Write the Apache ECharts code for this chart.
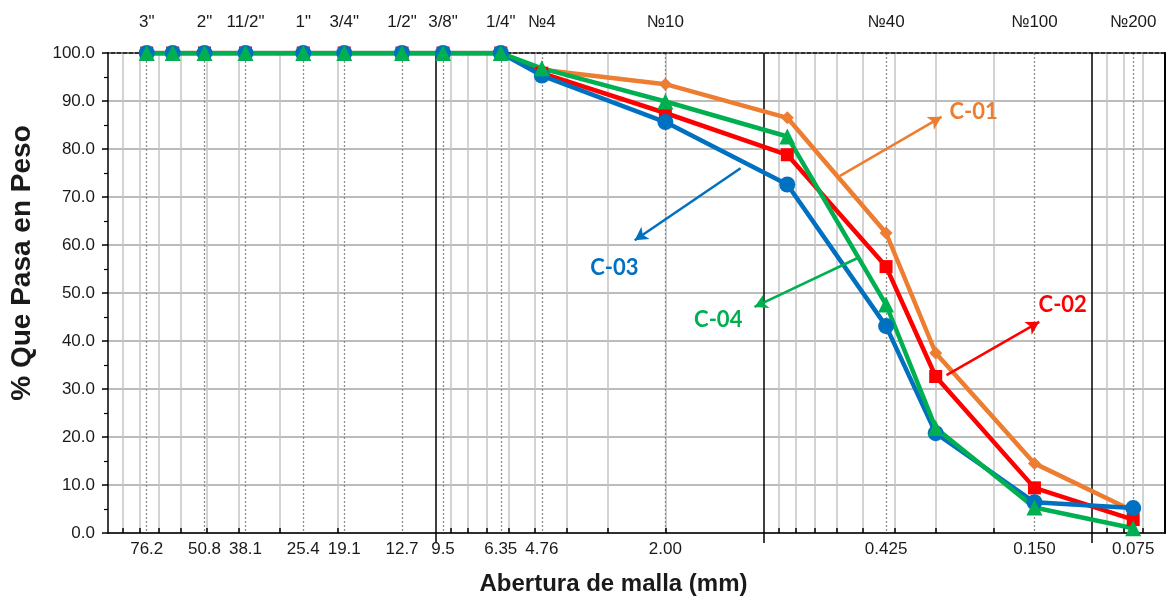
<!DOCTYPE html>
<html><head><meta charset="utf-8">
<script src="https://cdn.jsdelivr.net/npm/echarts@6/dist/echarts.min.js"></script>
<style>html,body{margin:0;padding:0;background:#fff}#c{width:1169px;height:606px}</style>
</head><body><div id="c"></div>
<script>
// Sieve openings (mm)
const sizes = [76.2, 63.5, 50.8, 38.1, 25.4, 19.05, 12.7, 9.525, 6.35, 4.76, 2.00, 0.85, 0.425, 0.30, 0.15, 0.075];
// % passing
const c01 = [100,100,100,100,100,100,100,100,100, 96.5, 93.5, 86.5, 62.5, 37.5, 14.5, 4.6];
const c02 = [100,100,100,100,100,100,100,100,100, 95.8, 87.5, 78.8, 55.5, 32.6, 9.4, 2.8];
const c03 = [100,100,100,100,100,100,100,100,100, 95.3, 85.6, 72.6, 43.1, 20.8, 6.4, 5.2];
const c04 = [100,100,100,100,100,100,100,100,100, 96.8, 89.9, 82.6, 47.6, 21.9, 5.3, 1.0];
// Tick labels
const bottomTickValues = [76.2, 50.8, 38.1, 25.4, 19.05, 12.7, 9.525, 6.35, 4.76, 2.00, 0.425, 0.15, 0.075];
const bottomTickLabels = ['76.2','50.8','38.1','25.4','19.1','12.7','9.5','6.35','4.76','2.00','0.425','0.150','0.075'];
const topTickLabels = ['3"','2"','11/2"','1"','3/4"','1/2"','3/8"','1/4"','№4','№10','№40','№100','№200'];
const decades = [0.1, 1, 10];
const minorLines = [0.07,0.08,0.09,0.2,0.3,0.4,0.5,0.6,0.7,0.8,0.9,2,3,4,5,6,7,8,9,20,30,40,50,60,70,80,90];
// Annotation arrows (data coords): from -> to, label centre
const annotations = [
  {name:'C-01', color:'#ED7D31', from:[0.587,74.4], to:[0.288,86.7], label:[0.230,87.7]},
  {name:'C-02', color:'#FF0000', from:[0.278,32.9], to:[0.145,44.0], label:[0.123,47.6]},
  {name:'C-03', color:'#0070C0', from:[1.18,76.0], to:[2.48,61.0], label:[2.86,55.2]},
  {name:'C-04', color:'#00B050', from:[0.511,57.5], to:[1.07,47.1], label:[1.38,44.4]}
];

const FONT = '"Liberation Sans",Arial,sans-serif';
function labelFor(v, vals, labs){
  for (let i=0;i<vals.length;i++){ if (Math.abs(v-vals[i])/vals[i] < 1e-4) return labs[i]; }
  return '';
}
const common = {type:'log', logBase:10, min:0.06, max:100, inverse:true, gridIndex:0};

const chart = echarts.init(document.getElementById('c'), null, {renderer:'canvas'});
const seriesDefs = [
  {name:'C-01', data:c01, color:'#ED7D31', symbol:'diamond', size:13},
  {name:'C-02', data:c02, color:'#FF0000', symbol:'rect', size:13},
  {name:'C-03', data:c03, color:'#0070C0', symbol:'circle', size:16},
  {name:'C-04', data:c04, color:'#00B050', symbol:'triangle', size:16}
];
const series = seriesDefs.map(s => {
  const a = annotations.find(x => x.name === s.name);
  return {
    type:'line', name:s.name, xAxisIndex:0, yAxisIndex:0,
    data: sizes.map((x,i)=>[x, s.data[i]]),
    symbol:s.symbol, symbolSize:s.size, showSymbol:true,
    lineStyle:{color:s.color, width:4.5},
    itemStyle:{color:s.color},
    z:3,
    markLine:{
      silent:true, symbol:['none','arrow'], symbolSize:[11,13],
      lineStyle:{color:a.color, width:2.5, type:'solid'},
      label:{show:false},
      data:[[{coord:a.from},{coord:a.to}]]
    },
    markPoint:{
      silent:true, symbol:'circle', symbolSize:2, itemStyle:{color:'rgba(0,0,0,0)'},
      label:{show:true, position:'inside', formatter:a.name, color:a.color,
             fontSize:22, fontWeight:'bold', fontFamily:'Lato, "Open Sans", sans-serif'},
      data:[{coord:a.label}]
    }
  };
});

chart.setOption({
  animation:false,
  grid:{left:105, right:4, top:53, bottom:73, containLabel:false},
  xAxis:[
    Object.assign({}, common, {
      position:'bottom',
      axisLine:{show:true, lineStyle:{color:'#000', width:1.5}},
      axisTick:{show:true, inside:true, length:5, customValues:minorLines, lineStyle:{color:'#000', width:1.5}},
      axisLabel:{show:false},
      splitLine:{show:true, lineStyle:{color:'#c4c4c4', width:1.5}}
    }),
    Object.assign({}, common, {
      position:'bottom',
      axisLine:{show:false},
      axisTick:{show:true, inside:false, length:10, customValues:decades, lineStyle:{color:'#000', width:1.5}},
      axisLabel:{show:false},
      splitLine:{show:true, lineStyle:{color:'#000', width:1.5}}
    }),
    Object.assign({}, common, {
      position:'bottom',
      axisLine:{show:false},
      axisTick:{show:false, customValues:bottomTickValues},
      axisLabel:{show:true, customValues:bottomTickValues, margin:8, color:'#1a1a1a', fontSize:17, fontFamily:FONT,
                 formatter:v=>labelFor(v,bottomTickValues,bottomTickLabels)},
      splitLine:{show:true, lineStyle:{color:'#8c8c8c', width:1.3, type:[2,2]}},
      name:'Abertura de malla (mm)', nameLocation:'middle', nameGap:39,
      nameTextStyle:{fontSize:24, fontWeight:'bold', color:'#1a1a1a', fontFamily:FONT, padding:[0,46,0,0]}
    }),
    Object.assign({}, common, {
      position:'top',
      axisLine:{show:true, lineStyle:{color:'#000', width:1.5, type:[4,2]}},
      axisTick:{show:false, customValues:bottomTickValues},
      axisLabel:{show:true, customValues:bottomTickValues, margin:22, color:'#1a1a1a', fontSize:17, fontFamily:FONT,
                 formatter:v=>labelFor(v,bottomTickValues,topTickLabels)},
      splitLine:{show:false}
    })
  ],
  yAxis:[
    {type:'value', min:0, max:100, interval:10, position:'left',
     axisLine:{show:true, lineStyle:{color:'#000', width:1.5}},
     axisTick:{show:true, length:6, lineStyle:{color:'#000', width:1.5}},
     minorTick:{show:true, splitNumber:2, length:4, lineStyle:{color:'#000', width:1.2}},
     axisLabel:{margin:13, color:'#1a1a1a', fontSize:17, fontFamily:FONT, formatter:v=>v.toFixed(1)},
     splitLine:{show:true, lineStyle:{color:'#a6a6a6', width:1.5}},
     name:'% Que Pasa en Peso', nameLocation:'middle', nameGap:72,
     nameTextStyle:{fontSize:28, fontWeight:'bold', color:'#1a1a1a', fontFamily:FONT, padding:[0,0,0,60]}
    },
    {type:'value', min:0, max:100, interval:10, position:'right',
     axisLine:{show:true, lineStyle:{color:'#000', width:2}},
     axisTick:{show:false}, axisLabel:{show:false}, splitLine:{show:false}
    }
  ],
  series: series
});
</script></body></html>
